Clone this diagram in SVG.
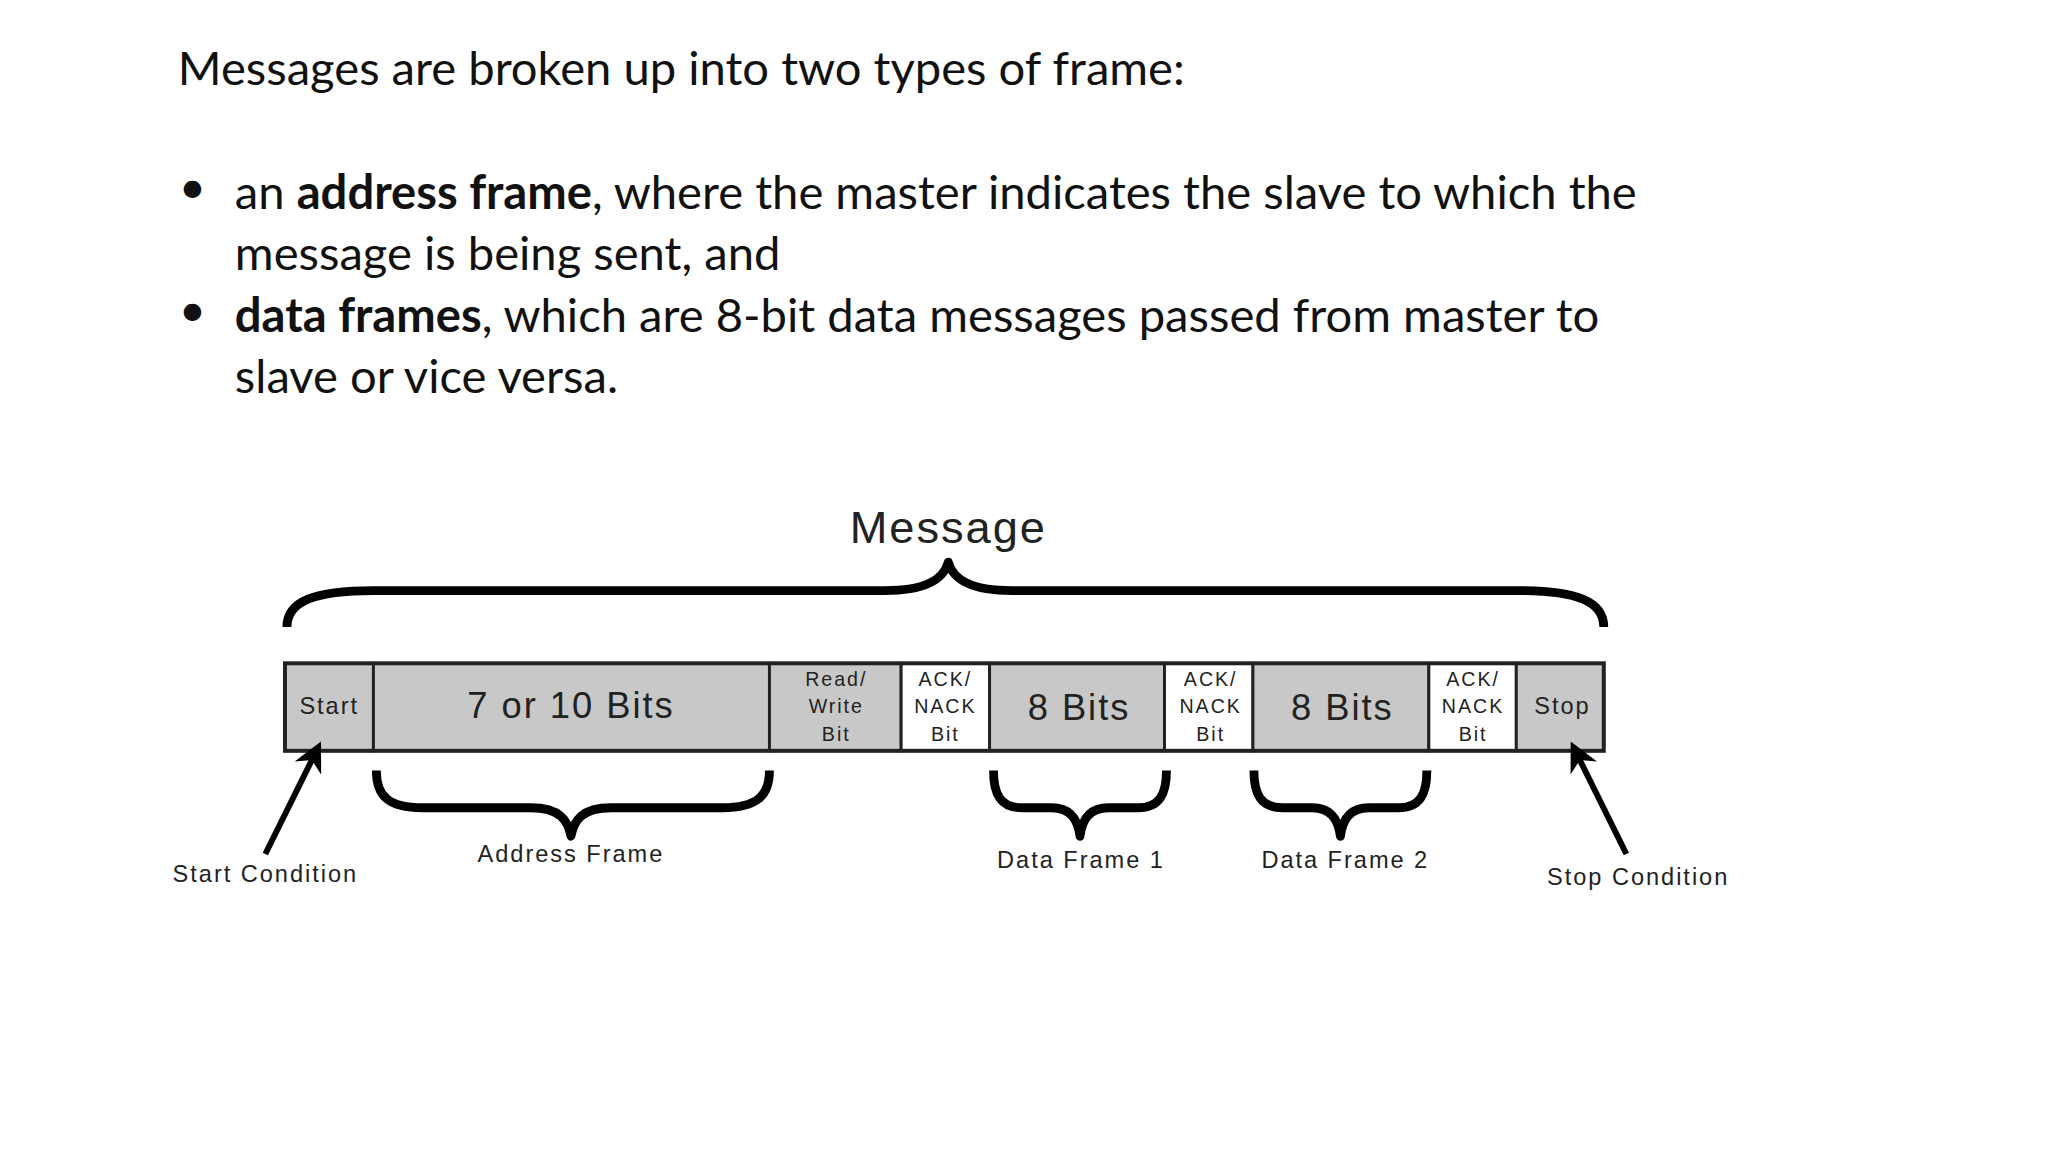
<svg xmlns="http://www.w3.org/2000/svg" width="2048" height="1152" viewBox="0 0 2048 1152">
<defs>
<style>
.t{font-family:Lato,"Open Sans",sans-serif;font-size:48px;fill:#111}
.d{font-family:"Liberation Sans",Arial,sans-serif;fill:#222;text-anchor:middle;letter-spacing:2px}
.g{fill:#c8c8c8;stroke:#222;stroke-width:3}
.w{fill:#fff;stroke:#222;stroke-width:3}
.br{fill:none;stroke:#000;stroke-width:9;stroke-linejoin:round}
</style>
<marker id="ah" viewBox="0 0 10 10" refX="8" refY="5" markerWidth="5" markerHeight="5" orient="auto"><path d="M0,0L10,5L0,10L3,5z" fill="#000"/></marker>
</defs>
<rect width="2048" height="1152" fill="#fff"/>
<g transform="scale(0.9827)">
<g id="text">
<text class="t" x="181" y="86">Messages are broken up into two types of frame:</text>
<text class="t" x="182" y="207" font-size="34">•</text>
<text class="t" x="239" y="213">an <tspan font-weight="bold">address frame</tspan>, where the master indicates the slave to which the</text>
<text class="t" x="239" y="275">message is being sent, and</text>
<text class="t" x="182" y="332" font-size="34">•</text>
<text class="t" x="239" y="338"><tspan font-weight="bold">data frames</tspan>, which are 8-bit data messages passed from master to</text>
<text class="t" x="239" y="400">slave or vice versa.</text>
</g>
<g id="message">
<text class="d" x="965" y="553" font-size="46" letter-spacing="4">Message</text>
<path class="br" d="M292,638 C292,612 320,601 380,601 L900,601 C942,601 960,590 965,572 C970,590 988,601 1030,601 L1545,601 C1605,601 1632,612 1632,638"/>
</g>
<g id="frame">
<rect class="g" x="290" y="675" width="90" height="89"/>
<rect class="g" x="380" y="675" width="403" height="89"/>
<rect class="g" x="783" y="675" width="134" height="89"/>
<rect class="w" x="917" y="675" width="90" height="89"/>
<rect class="g" x="1007" y="675" width="178" height="89"/>
<rect class="w" x="1185" y="675" width="90" height="89"/>
<rect class="g" x="1275" y="675" width="179" height="89"/>
<rect class="w" x="1454" y="675" width="89" height="89"/>
<rect class="g" x="1543" y="675" width="89" height="89"/>
<rect x="290" y="675" width="1342" height="89" fill="none" stroke="#222" stroke-width="4"/>
<text class="d" x="335" y="727" font-size="24" letter-spacing="1">Start</text>
<text class="d" x="581" y="731" font-size="37" letter-spacing="3">7 or 10 Bits</text>
<g font-size="20" letter-spacing="1"><text class="d" x="851" y="698">Read/</text><text class="d" x="851" y="726">Write</text><text class="d" x="851" y="754">Bit</text>
<text class="d" x="962" y="698">ACK/</text><text class="d" x="962" y="726">NACK</text><text class="d" x="962" y="754">Bit</text>
<text class="d" x="1232" y="698">ACK/</text><text class="d" x="1232" y="726">NACK</text><text class="d" x="1232" y="754">Bit</text>
<text class="d" x="1499" y="698">ACK/</text><text class="d" x="1499" y="726">NACK</text><text class="d" x="1499" y="754">Bit</text></g>
<text class="d" x="1098" y="733" font-size="37" letter-spacing="3">8 Bits</text>
<text class="d" x="1366" y="733" font-size="37" letter-spacing="3">8 Bits</text>
<text class="d" x="1590" y="727" font-size="24" letter-spacing="1">Stop</text>
</g>
<g id="connectors">
<path class="br" d="M383,784 C383,810 395,822 430,822 L540,822 C570,822 578,835 581,851 C584,835 592,822 622,822 L735,822 C770,822 783,810 783,784"/>
<path class="br" d="M1011,784 C1011,808 1018,822 1040,822 L1070,822 C1090,822 1097,835 1099,851 C1101,835 1108,822 1128,822 L1158,822 C1180,822 1187,808 1187,784"/>
<path class="br" d="M1276,784 C1276,808 1283,822 1305,822 L1335,822 C1355,822 1362,835 1364,851 C1366,835 1373,822 1393,822 L1423,822 C1445,822 1452,808 1452,784"/>
<line x1="270" y1="869" x2="324" y2="760" stroke="#000" stroke-width="6" marker-end="url(#ah)"/>
<line x1="1655" y1="869" x2="1601" y2="760" stroke="#000" stroke-width="6" marker-end="url(#ah)"/>
</g>
<g id="labels" font-size="24">
<text class="d" x="581" y="877">Address Frame</text>
<text class="d" x="1100" y="883">Data Frame 1</text>
<text class="d" x="1369" y="883">Data Frame 2</text>
<text class="d" x="270" y="898">Start Condition</text>
<text class="d" x="1667" y="901">Stop Condition</text>
</g>
</g>
</svg>
